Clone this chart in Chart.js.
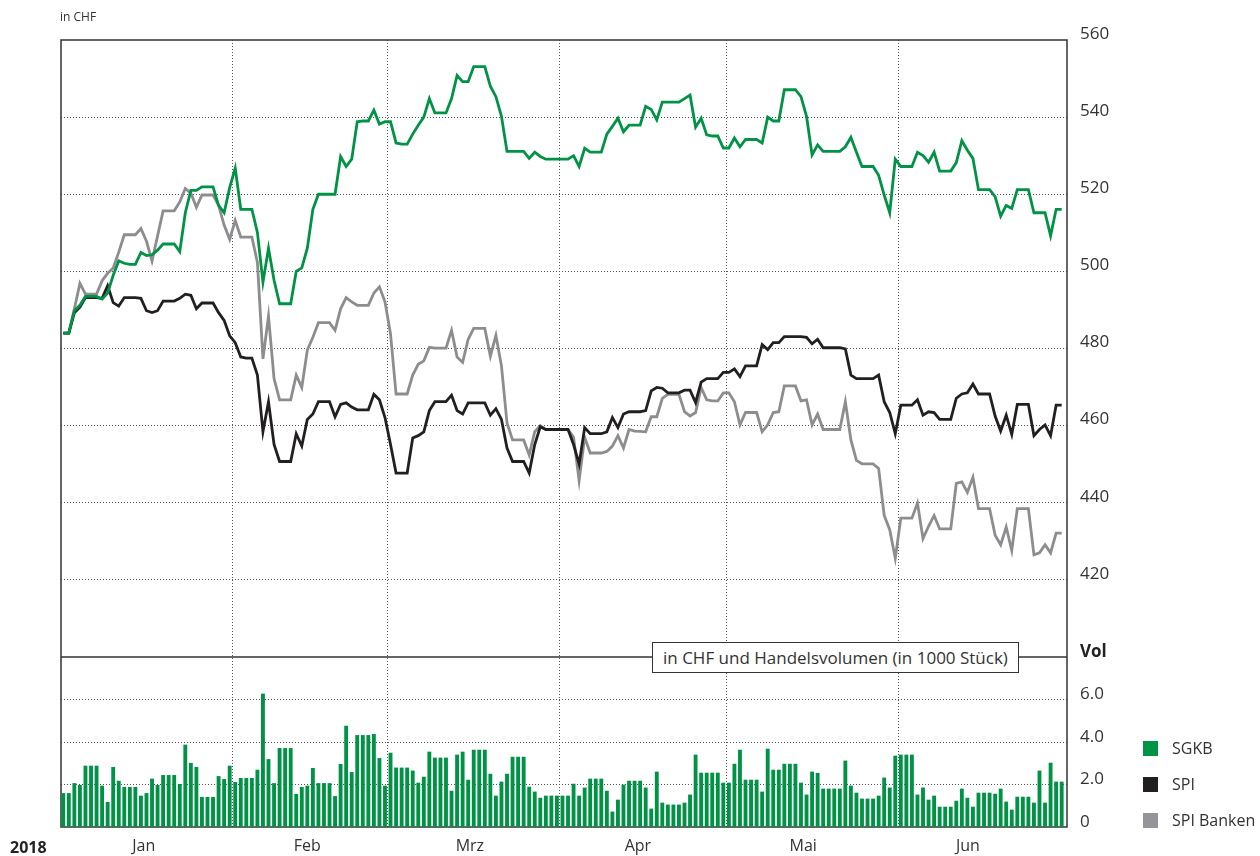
<!DOCTYPE html>
<html>
<head>
<meta charset="utf-8">
<script src="https://cdn.jsdelivr.net/npm/chart.js@4.4.1/dist/chart.umd.min.js"></script>
<style>
html,body{margin:0;padding:0;background:#fff;}
body{width:1260px;height:856px;position:relative;overflow:hidden;font-family:"Open Sans",sans-serif;color:#333;}
#c{position:absolute;left:0;top:0;}
.t{position:absolute;white-space:nowrap;}
#unit{left:60px;top:8px;font-size:12px;}
#year{left:10px;top:836px;font-size:16px;font-weight:bold;color:#222;}
#box{left:652px;top:642px;height:29px;line-height:29px;padding:0 10px;border:1px solid #333;background:#fff;font-size:17px;}
#legend{position:absolute;left:1143px;top:0;}
.item{position:absolute;left:0;white-space:nowrap;font-size:16px;line-height:20px;}
.item i{display:inline-block;width:15px;height:15px;vertical-align:-2px;margin-right:14px;}
</style>
</head>
<body>
<canvas id="c" width="1260" height="856"></canvas>
<div class="t" id="unit">in CHF</div>
<div class="t" id="year">2018</div>
<div class="t" id="box">in CHF und Handelsvolumen (in 1000 Stück)</div>
<div id="legend"></div>
<script>
// one value per calendar day, 1 Jan 2018 = day 0 (weekends/holidays carry the last close)
const monthNames=["Jan","Feb","Mrz","Apr","Mai","Jun"];
const monthStarts=[0,31,59,90,120,151,181];
const monthLabelAt=[14.5,44,73.3,103.6,133.4,163.1];
const seriesNames=["SGKB","SPI","SPI Banken"];
const priceTicks=[400,420,440,460,480,500,520,540,560];
const volTicks=[0,2,4,6,8];

const sgkb=[
484.0,484.0,489.8,491.2,493.5,493.5,493.5,492.8,494.4,499.0,
502.7,502.1,501.8,501.8,504.9,504.1,504.3,505.5,507.1,507.1,
507.1,505.1,515.2,521.0,521.0,521.9,521.9,521.9,517.1,515.2,
521.7,526.8,516.1,516.1,516.1,510.1,497.2,506.0,497.7,491.6,
491.6,491.6,500.0,500.9,506.0,516.1,520.0,520.0,520.0,520.0,
529.8,527.2,529.1,538.8,539.0,539.0,541.8,538.2,538.8,538.8,
533.3,533.0,533.0,535.6,537.9,540.0,544.8,541.1,541.1,541.1,
544.8,550.8,549.2,549.2,553.1,553.1,553.1,548.0,545.3,540.2,
531.1,531.1,531.1,531.1,529.3,530.9,529.8,529.1,529.1,529.1,
529.1,529.1,530.0,527.2,531.9,530.9,530.9,530.9,535.6,537.6,
539.7,536.2,537.9,537.9,537.9,542.8,542.0,539.3,543.9,543.9,
543.9,543.9,544.8,545.7,537.4,539.7,535.4,535.1,535.1,532.0,
532.0,534.6,532.3,534.2,534.2,534.2,533.3,540.0,539.0,539.0,
547.1,547.1,547.1,545.3,540.2,530.2,532.8,531.1,531.1,531.1,
531.1,532.3,534.8,530.9,527.2,527.2,527.2,524.9,519.8,515.2,
529.1,527.2,527.2,527.2,530.9,530.0,528.3,530.9,526.0,526.0,
526.0,528.2,533.9,531.4,529.3,521.2,521.2,521.2,519.4,514.3,
517.1,516.3,521.2,521.2,521.2,515.2,515.2,515.2,509.2,516.1,
516.1];

const spi=[
484.0,484.0,489.3,490.7,493.2,493.2,493.2,493.0,496.3,491.9,
491.0,493.2,493.2,493.2,493.0,489.8,489.3,489.8,492.3,492.3,
492.3,493.0,494.1,493.8,490.3,491.8,491.8,491.8,489.3,487.3,
483.3,481.5,477.8,477.5,477.5,473.1,458.4,466.2,455.1,450.7,
450.7,450.7,457.9,454.7,461.6,463.0,466.2,466.2,466.2,462.3,
465.5,465.9,464.8,464.1,464.1,464.1,468.1,466.7,462.1,455.1,
447.7,447.7,447.7,456.8,457.4,458.4,463.9,466.2,466.2,466.2,
467.9,463.9,463.0,465.9,465.9,465.9,465.9,462.7,464.4,461.6,
454.2,450.7,450.7,450.7,447.7,455.1,459.7,459.0,459.0,459.0,
459.0,459.0,455.1,450.0,459.5,457.9,457.9,457.9,458.4,462.1,
459.5,463.0,463.6,463.6,463.6,463.9,469.0,469.9,469.7,468.5,
468.5,468.5,469.2,469.2,466.0,471.3,472.2,472.2,472.2,473.8,
473.8,474.7,472.7,475.5,475.5,475.5,481.0,479.7,481.5,481.5,
483.1,483.1,483.1,483.1,482.9,481.2,482.4,480.2,480.2,480.2,
480.2,479.9,473.1,472.2,472.2,472.2,472.2,473.1,466.2,463.4,
457.9,465.3,465.3,465.3,466.7,462.7,463.6,463.4,461.6,461.6,
461.6,467.1,468.2,468.5,470.8,468.2,468.2,468.2,462.5,458.6,
462.7,457.7,465.5,465.5,465.5,457.4,459.0,460.2,457.4,465.3,
465.3];

const spiBanken=[
484.0,484.0,490.3,496.9,494.1,494.1,494.1,497.6,499.5,500.9,
505.0,509.5,509.5,509.5,511.1,507.8,502.7,509.2,515.7,515.7,
515.7,518.0,521.5,520.3,516.6,519.8,519.8,519.8,517.1,512.0,
508.3,513.2,508.9,508.9,508.9,502.3,477.3,488.4,472.2,466.7,
466.7,466.7,473.1,469.9,479.6,482.9,486.7,486.7,486.7,484.7,
490.3,493.2,492.1,491.2,491.2,491.2,494.4,496.0,492.1,483.8,
468.2,468.2,468.2,473.1,475.9,476.8,480.3,480.1,480.1,480.1,
484.7,477.8,476.4,482.4,485.2,485.2,485.2,478.0,483.4,475.5,
460.7,456.3,456.3,456.3,452.4,458.4,460.0,459.0,459.0,459.0,
459.0,459.0,457.0,445.7,457.0,452.9,452.9,452.9,453.3,454.7,
457.4,454.2,459.0,458.6,458.5,458.4,462.3,462.3,467.1,468.1,
468.1,468.1,463.6,462.5,463.4,469.9,466.7,466.4,466.4,468.5,
468.5,466.2,460.2,463.4,463.4,463.4,458.4,460.2,463.4,463.6,
470.3,470.3,470.3,466.4,466.7,460.2,463.0,459.0,459.0,459.0,
459.0,466.2,456.3,451.0,450.1,450.1,450.1,448.9,436.7,433.0,
425.6,436.0,436.0,436.0,439.9,430.7,433.9,436.7,433.2,433.2,
433.2,445.0,445.4,442.7,446.6,438.5,438.5,438.5,431.6,429.1,
433.7,427.6,438.5,438.5,438.5,426.5,427.0,429.1,427.0,432.1,
432.1];

// SGKB Handelsvolumen in 1000 Stück
const volume=[
1.58,1.58,2.05,1.96,2.87,2.87,2.87,1.93,1.16,2.81,
2.16,1.87,1.87,1.87,1.46,1.58,2.26,1.96,2.43,2.43,
2.43,2.01,3.86,3.00,2.81,1.40,1.40,1.40,2.38,2.24,
2.87,2.10,2.29,2.29,2.29,2.68,6.26,3.18,2.05,3.70,
3.70,3.70,1.54,1.87,1.93,2.76,2.05,2.05,2.05,1.44,
2.95,4.75,2.57,4.31,4.31,4.31,4.36,3.23,1.93,3.48,
2.78,2.78,2.78,2.64,2.07,2.35,3.53,3.25,3.25,3.25,
1.69,3.39,3.53,2.21,3.62,3.62,3.62,2.49,1.46,2.12,
2.49,3.29,3.29,3.29,1.88,1.65,1.36,1.46,1.46,1.46,
1.46,1.46,2.02,1.46,1.84,2.26,2.26,2.26,1.69,0.71,
1.27,1.98,2.16,2.16,2.16,1.84,0.85,2.59,1.13,1.04,
1.04,1.04,1.13,1.51,3.39,2.54,2.54,2.54,2.54,2.07,
2.07,2.96,3.62,2.21,2.21,2.21,1.65,3.67,2.68,2.68,
2.96,2.96,2.96,2.07,1.51,2.59,2.53,1.79,1.79,1.79,
1.79,3.11,1.93,1.60,1.32,1.32,1.32,1.46,2.31,1.84,
3.34,3.39,3.39,3.39,1.51,1.84,1.27,1.46,0.94,0.94,
0.94,1.22,1.79,1.36,0.94,1.60,1.60,1.60,1.55,1.79,
1.18,0.80,1.41,1.41,1.41,1.13,2.64,1.13,3.01,2.12,
2.12];

const colors={green:"#009245",black:"#231f20",gray:"#8d8d90",grid:"#555",text:"#333"};
const family='"Open Sans", sans-serif';
const xy=a=>a.map((v,i)=>({x:i,y:v}));
const bounds=monthStarts.slice(1,-1).map(d=>d-0.5);
const dotted={display:false,dash:[1,2]};

document.getElementById("legend").innerHTML=seriesNames.map((n,i)=>
  `<div class="item" style="top:${738+i*36}px"><i style="background:${[colors.green,colors.black,"#939598"][i]}"></i>${n}</div>`).join("");

const frame={id:"frame",beforeDatasetsDraw(c){
  const {ctx,chartArea:a}=c;const yv=c.scales.vol.getPixelForValue(8);
  ctx.save();ctx.strokeStyle="#333";ctx.lineWidth=1.5;
  ctx.strokeRect(a.left,a.top,a.right-a.left,a.bottom-a.top);
  ctx.beginPath();ctx.moveTo(a.left,yv);ctx.lineTo(a.right,yv);ctx.stroke();ctx.restore();
}};

new Chart("c",{
  data:{datasets:[
    {type:"line",label:seriesNames[0],data:xy(sgkb),borderColor:colors.green,borderWidth:2.8,pointRadius:0,tension:0,yAxisID:"price",order:1},
    {type:"line",label:seriesNames[1],data:xy(spi),borderColor:colors.black,borderWidth:2.8,pointRadius:0,tension:0,yAxisID:"price",order:2},
    {type:"line",label:seriesNames[2],data:xy(spiBanken),borderColor:colors.gray,borderWidth:2.8,pointRadius:0,tension:0,yAxisID:"price",order:3},
    {type:"bar",label:"Volumen",data:xy(volume),backgroundColor:colors.green,barThickness:3.2,yAxisID:"vol",order:4}
  ]},
  options:{responsive:false,animation:false,events:[],
    layout:{padding:{left:61,top:40,right:0,bottom:0}},
    plugins:{legend:{display:false},tooltip:{enabled:false}},
    scales:{
      x:{type:"linear",min:-0.41,max:180.96,offset:false,
        afterBuildTicks:s=>{s.ticks=[...bounds,...monthLabelAt].sort((a,b)=>a-b).map(v=>({value:v}))},
        grid:{offset:false,drawTicks:false,color:c=>bounds.includes(c.tick&&c.tick.value)?colors.grid:"transparent"},
        border:dotted,
        ticks:{autoSkip:false,maxRotation:0,padding:10,color:colors.text,font:{family,size:16},
          callback:v=>{const i=monthLabelAt.indexOf(v);return i<0?"":monthNames[i]}},
        afterFit:s=>{s.height=29}},
      price:{type:"linear",position:"right",stack:"p",stackWeight:617,min:400,max:560,
        afterBuildTicks:s=>{s.ticks=priceTicks.map(v=>({value:v}))},
        grid:{drawTicks:false,color:c=>c.tick&&c.tick.value>400&&c.tick.value<560?colors.grid:"transparent"},
        border:dotted,
        ticks:{autoSkip:false,padding:13,labelOffset:-6,color:colors.text,font:{family,size:17},callback:v=>v===400?"":String(v)},
        afterFit:s=>{s.width=193}},
      vol:{type:"linear",position:"right",stack:"p",stackWeight:170,min:0,max:8,
        afterBuildTicks:s=>{s.ticks=volTicks.map(v=>({value:v}))},
        grid:{drawTicks:false,color:c=>c.tick&&c.tick.value>0&&c.tick.value<8?colors.grid:"transparent"},
        border:dotted,
        ticks:{autoSkip:false,padding:13,labelOffset:-5,color:c=>c.tick&&c.tick.value===8?"#222":colors.text,
          font:c=>({family,size:17,weight:c.tick&&c.tick.value===8?"bold":"normal"}),
          callback:v=>v===8?"Vol":v===0?"0":v.toFixed(1)},
        afterFit:s=>{s.width=193}}
    }
  },
  plugins:[frame]
});
</script>
</body>
</html>
